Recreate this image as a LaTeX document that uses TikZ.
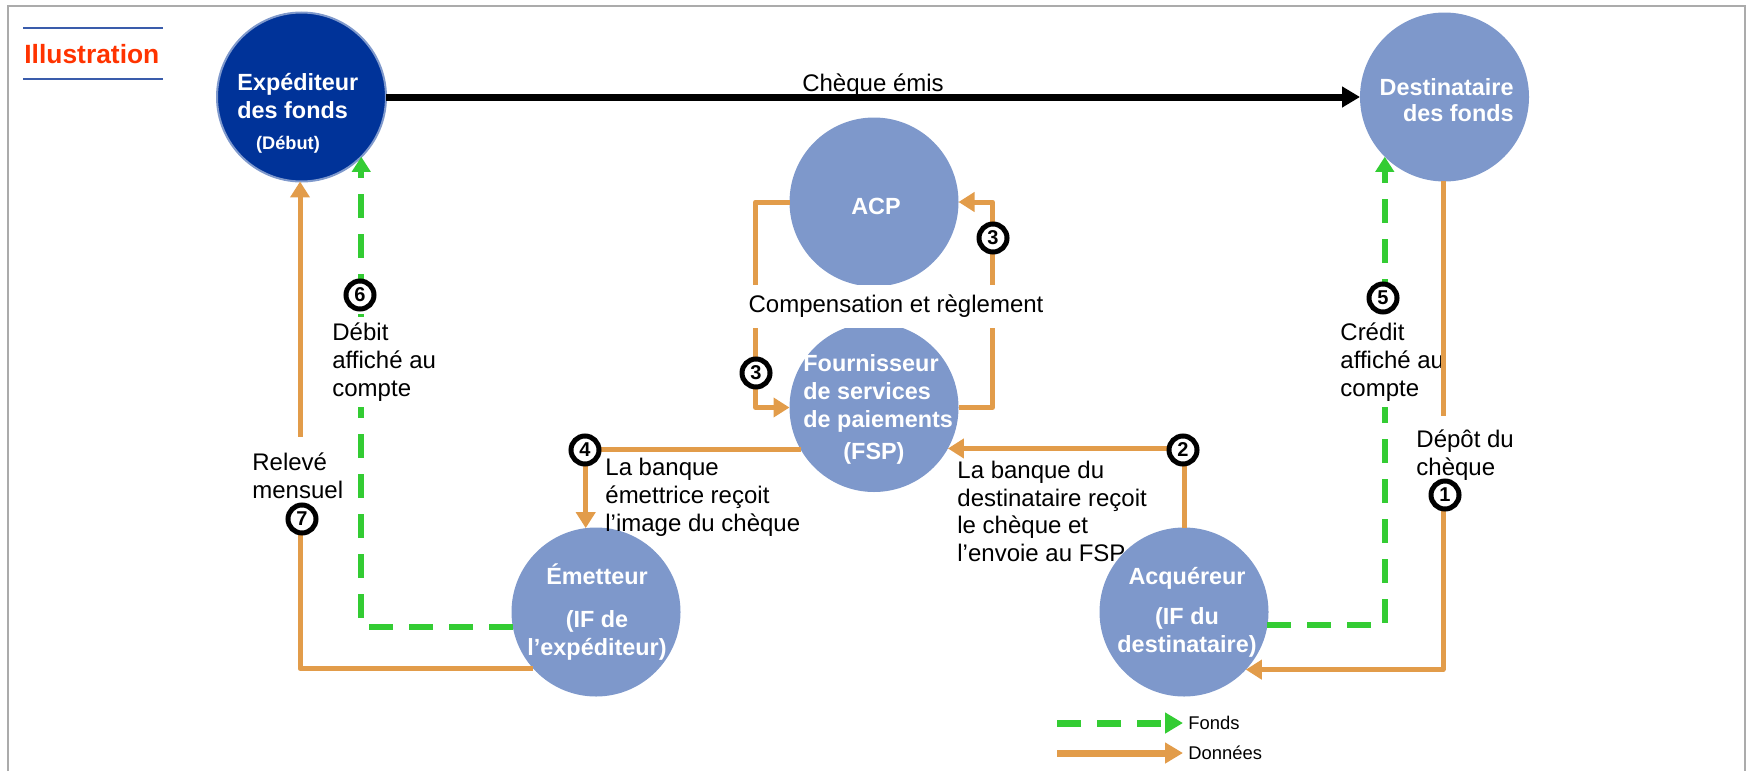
\documentclass[tikz,border=0pt]{standalone}
\usepackage{fontspec}
\setmainfont{Liberation Sans}
\usetikzlibrary{arrows.meta}
\definecolor{framegray}{HTML}{ABABAB}
\definecolor{navy}{HTML}{003399}
\definecolor{softblue}{HTML}{7E98CB}
\definecolor{rimblue}{HTML}{7F99CC}
\definecolor{dataorange}{HTML}{E29C4A}
\definecolor{fundgreen}{HTML}{33CC33}
\definecolor{titlered}{HTML}{FF3300}
\definecolor{ruleblue}{HTML}{3A5CAB}
\begin{document}
\begin{tikzpicture}[x=0.5pt,y=-0.5pt,
  party/.style={circle, fill=softblue, minimum size=84.5pt, inner sep=0pt, outer sep=0pt},
  intext/.style={text=white, font=\bfseries\fontsize{11.7}{14}\selectfont, inner sep=0pt},
  note/.style={font=\fontsize{12}{13.9}\selectfont, align=left, inner sep=0pt, text=black},
  cover/.style={fill=white},
  badge/.style={circle, draw=black, line width=2.5pt, fill=white, minimum size=14pt,
    inner sep=0pt, font=\bfseries\fontsize{10}{10}\selectfont},
  data/.style={draw=dataorange, line width=2.5pt, line join=round,
    -{Triangle[length=8pt,width=9.5pt]}},
  funds/.style={draw=fundgreen, line width=3pt, line join=round,
    dash pattern=on 12pt off 8pt, -{Triangle[length=7.5pt,width=9pt]}},
  legendtext/.style={font=\fontsize{9.2}{11}\selectfont, anchor=west, inner xsep=2.5pt, inner ysep=0pt},
]
\useasboundingbox (0,0) rectangle (1748,771);
% page frame, open at the bottom
\draw[framegray, line width=1pt] (8,771) -- (8,6) -- (1745,6) -- (1745,771);

% heading
\draw[ruleblue, line width=1pt] (23,28) -- (163,28);
\draw[ruleblue, line width=1pt] (23,79) -- (163,79);
\node[anchor=west, text=titlered, font=\bfseries\fontsize{13.2}{15}\selectfont, inner sep=0pt]
  (title) at (24,54) {Illustration};

% parties
\node[party, fill=navy, draw=rimblue, line width=1pt] (exped) at (301.5,97) {};
\node[party] (dest) at (1444.5,97) {};
\node[party] (acp)  at (874,202) {};
\node[party] (fsp)  at (874,407.5) {};
\node[party] (emet) at (596,612) {};
\node[party] (acq)  at (1184,612) {};

\node[intext, anchor=west, align=left] (expedtxt) at (237,96) {Expéditeur\\des fonds};
\node[intext, font=\bfseries\fontsize{9.1}{11}\selectfont] (debut) at (288,145) {(Début)};
\node[intext, anchor=east, align=right, font=\bfseries\fontsize{11.7}{13}\selectfont]
  (desttxt) at (1514,100) {Destinataire\\des fonds};
\node[intext] (acptxt) at (876,206) {ACP};
\node[intext, anchor=west, align=left] (fsptxt) at (803,409)
  {Fournisseur\\de services\\de paiements\\[2pt]\hspace*{20pt}(FSP)};
\node[intext, align=center] (emettxt) at (597,612) {Émetteur\\[7.5pt](IF de\\l’expéditeur)};
\node[intext, align=center] (acqtxt) at (1187,612) {Acquéreur\\[6pt](IF du\\destinataire)};

% the cheque itself
\draw[line width=3.5pt, -{Triangle[length=9pt,width=10pt]}] (exped.east) -- (dest.west);
\node[note] (cheque) at (873,85) {Chèque émis};

% flows of funds
\draw[funds] (acq.-9.6) -| (dest.-135.7);
\draw[funds] (emet.-170.4) -| (exped.-45.5);
\node[note, cover, anchor=west, inner ysep=3pt] (debit) at (332,362) {Débit\\affiché au\\compte};
\node[note, cover, anchor=west, inner ysep=3pt] (credit) at (1340,362) {Crédit\\affiché au\\compte};

% flows of data
\draw[data] (dest.-91) |- (acq.-43.6);
\draw[data] (acq.north) |- (fsp.-29.2);
\draw[data] (fsp.-150.8) -| (emet.97.5);
\draw[data] (fsp.east) -- ++(34,0) |- (acp.east);
\draw[data] (acp.west) -- ++(-34,0) |- (fsp.west);
\draw[data] (emet.-138.2) -| (exped.-91);

\node[note, cover, minimum height=21.5pt, inner xsep=2pt] (clearing) at (896,306.5) {Compensation et règlement};
\node[note, cover, anchor=west, inner ysep=8pt] (releve) at (252,476) {Relevé\\mensuel};
\node[note, cover, anchor=west, inner ysep=7pt] (depot) at (1416,455) {Dépôt du\\chèque};
\node[note, anchor=west] (issuerlbl) at (605,497.5) {La banque\\émettrice reçoit\\l’image du chèque};
\node[note, anchor=west] (acqlbl) at (957,511.5) {La banque du\\destinataire reçoit\\le chèque et\\l’envoie au FSP};

% step numbers
\node[badge] (s1) at (1445,495) {1};
\node[badge] (s2) at (1183,450) {2};
\node[badge] (s3a) at (993,238) {3};
\node[badge] (s3b) at (756,373) {3};
\node[badge] (s4) at (585,450) {4};
\node[badge] (s5) at (1383,298) {5};
\node[badge] (s6) at (360,295) {6};
\node[badge] (s7) at (302,519) {7};

% legend
\coordinate (fstart) at (1057,723);
\node[legendtext] (fonds) at (1183,723) {Fonds};
\draw[draw=fundgreen, line width=3.5pt, dash pattern=on 11.75pt off 8.25pt,
  -{Triangle[length=9pt,width=10pt]}] (fstart) -- (fonds.west);
\coordinate (dstart) at (1057,753);
\node[legendtext] (donnees) at (1183,753) {Données};
\draw[draw=dataorange, line width=3.5pt, -{Triangle[length=9pt,width=10pt]}] (dstart) -- (donnees.west);
\end{tikzpicture}
\end{document}
